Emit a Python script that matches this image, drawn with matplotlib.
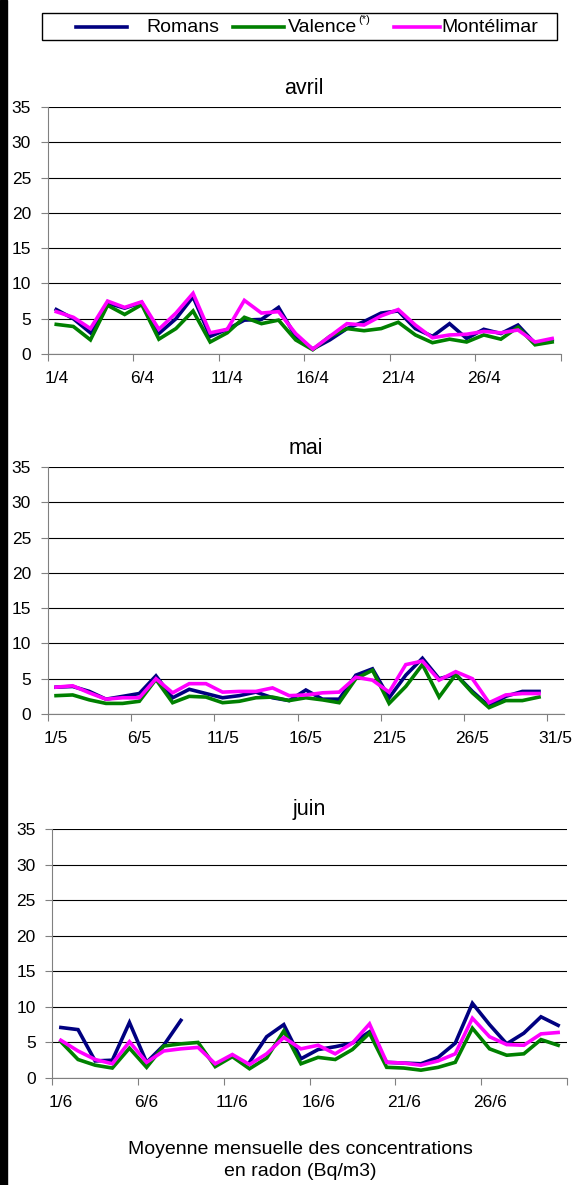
import matplotlib.pyplot as plt
import numpy as np
from matplotlib.lines import Line2D
from matplotlib.patches import Rectangle

plt.rcParams['font.family'] = ['Liberation Sans', 'DejaVu Sans']

# daily radon values (Bq/m3)
avril_romans = [6.3, 5.0, 3.0, 7.2, 6.5, 7.3, 2.9, 5.0, 8.1, 2.5, 3.5, 4.8, 4.9, 6.6, 2.5,
                0.7, 2.0, 3.6, 4.6, 5.8, 6.1, 3.6, 2.5, 4.3, 2.2, 3.5, 2.9, 4.1, 1.5, 2.0]
avril_valence = [4.2, 3.9, 2.0, 6.9, 5.6, 7.0, 2.1, 3.6, 6.1, 1.7, 3.0, 5.2, 4.3, 4.8, 2.0,
                 0.6, 2.5, 3.6, 3.3, 3.6, 4.5, 2.7, 1.6, 2.1, 1.7, 2.7, 2.1, 3.8, 1.3, 1.7]
avril_montelimar = [6.0, 5.2, 3.6, 7.5, 6.6, 7.4, 3.5, 5.8, 8.6, 3.0, 3.5, 7.6, 5.8, 6.0, 2.9,
                    0.7, 2.5, 4.3, 4.1, 5.4, 6.3, 4.1, 2.3, 2.7, 2.8, 3.2, 3.0, 3.4, 1.7, 2.2]

mai_romans = [3.8, 3.9, 3.2, 2.1, 2.5, 2.9, 5.4, 2.3, 3.5, 2.9, 2.3, 2.6, 3.1, 2.3, 1.9,
              3.4, 2.1, 2.1, 5.5, 6.4, 2.3, 5.5, 7.9, 5.0, 5.6, 3.2, 1.1, 2.5, 3.2, 3.2]
mai_valence = [2.6, 2.7, 2.0, 1.5, 1.5, 1.8, 4.9, 1.6, 2.5, 2.4, 1.6, 1.8, 2.3, 2.4, 1.9,
               2.3, 2.0, 1.6, 5.0, 6.2, 1.5, 3.9, 7.0, 2.4, 5.6, 3.0, 0.9, 1.9, 1.9, 2.4]
mai_montelimar = [3.8, 4.0, 3.0, 2.1, 2.3, 2.3, 5.0, 3.0, 4.3, 4.3, 3.1, 3.2, 3.2, 3.7, 2.6,
                  2.7, 3.0, 3.1, 5.2, 4.8, 3.1, 7.0, 7.5, 4.8, 6.0, 5.0, 1.6, 2.7, 2.9, 2.9]

juin_romans = [7.1, 6.8, 2.4, 2.5, 7.8, 2.2, 4.6, 8.1, np.nan, np.nan, np.nan, 2.2, 5.8, 7.5, 2.7,
               4.0, 4.4, 4.9, 6.5, 2.2, 2.1, 2.0, 2.9, 4.9, 10.5, 7.5, 4.8, 6.3, 8.6, 7.4]
juin_valence = [5.1, 2.6, 1.8, 1.4, 4.2, 1.5, 4.5, 4.8, 5.0, 1.6, 3.0, 1.3, 2.8, 6.6, 2.0,
                2.9, 2.6, 4.0, 6.3, 1.5, 1.4, 1.1, 1.5, 2.2, 7.0, 4.1, 3.2, 3.4, 5.4, 4.6]
juin_montelimar = [5.3, 3.8, 2.6, 2.0, 5.1, 2.2, 3.8, 4.1, 4.3, 2.0, 3.3, 1.9, 3.4, 5.7, 4.1,
                   4.6, 3.4, 4.9, 7.6, 2.2, 2.1, 1.8, 2.4, 3.4, 8.4, 5.8, 4.7, 4.6, 6.2, 6.4]

mois = ['avril', 'mai', 'juin']
jours = [30, 31, 30]
labels = [['1/4', '6/4', '11/4', '16/4', '21/4', '26/4'],
          ['1/5', '6/5', '11/5', '16/5', '21/5', '26/5', '31/5'],
          ['1/6', '6/6', '11/6', '16/6', '21/6', '26/6']]
series = ['Romans', 'Valence', 'Montélimar']
colors = ['#000080', '#008000', '#FF00FF']
data = [[avril_romans, avril_valence, avril_montelimar],
        [mai_romans, mai_valence, mai_montelimar],
        [juin_romans, juin_valence, juin_montelimar]]

W, H = 574, 1185
fig = plt.figure(figsize=(W / 100, H / 100), dpi=100)


def box(left, top, right, bottom):
    return [left / W, 1 - bottom / H, (right - left) / W, (bottom - top) / H]


rects = [box(47.7, 107, 560.7, 354), box(47.7, 467, 564, 714), box(52.3, 829, 566.7, 1078)]

for i in range(3):
    ax = fig.add_axes(rects[i])
    for vals, c in zip(data[i], colors):
        x = np.arange(len(vals)) + 0.5
        ax.plot(x, vals, color=c, lw=2.6, solid_joinstyle='miter')
    ax.set_xlim(0, jours[i])
    ax.set_ylim(0, 35)
    ax.set_yticks(range(0, 36, 5))
    ax.grid(axis='y', color='black', lw=0.8)
    ax.set_axisbelow(True)
    for s in ['top', 'right']:
        ax.spines[s].set_visible(False)
    for s in ['left', 'bottom']:
        ax.spines[s].set_color('#808080')
    ax.set_xticks(range(0, 31, 5))
    ax.set_xticklabels([])
    ax.set_xticks(np.arange(len(labels[i])) * 5 + 0.5, labels[i], minor=True)
    ax.tick_params(axis='x', which='major', length=5, color='#808080')
    ax.tick_params(axis='x', which='minor', length=0, pad=12, labelsize=12.5)
    ax.tick_params(axis='y', length=5, color='#808080', pad=7, labelsize=12.5)
    ax.text(0.5, 1 + 19 / 247, mois[i], transform=ax.transAxes, ha='center', va='center', fontsize=15.5)

# legend drawn by hand to match the original spacing
fig.patches.append(Rectangle((42 / W, 1 - 40 / H), 515 / W, 27 / H, transform=fig.transFigure,
                             fill=False, edgecolor='black', lw=1))
ly = 1 - 27 / H
line_x = [(76, 127), (233, 284), (394, 440)]
text_x = [146, 288, 441]
renderer = fig.canvas.get_renderer()
for (a, b), tx, name, c in zip(line_x, text_x, series, colors):
    fig.lines.append(Line2D([a / W, b / W], [ly, ly], transform=fig.transFigure, color=c, lw=2.6))
    t = fig.text(tx / W, ly, name, ha='left', va='center', fontsize=14)
    if name == 'Valence':
        x_end = t.get_window_extent(renderer).x1
        fig.text(x_end / W + 1 / W, 1 - 20 / H, '(*)', ha='left', va='center', fontsize=8)

fig.text(300 / W, 1 - 1150 / H, 'Moyenne mensuelle des concentrations', ha='center', va='center', fontsize=14)
fig.text(300 / W, 1 - 1171 / H, 'en radon (Bq/m3)', ha='center', va='center', fontsize=14)

# black bar on the left edge
fig.patches.append(Rectangle((0, 0), 7 / W, 1, transform=fig.transFigure, color='black'))

fig.savefig('out.png', dpi=100)
